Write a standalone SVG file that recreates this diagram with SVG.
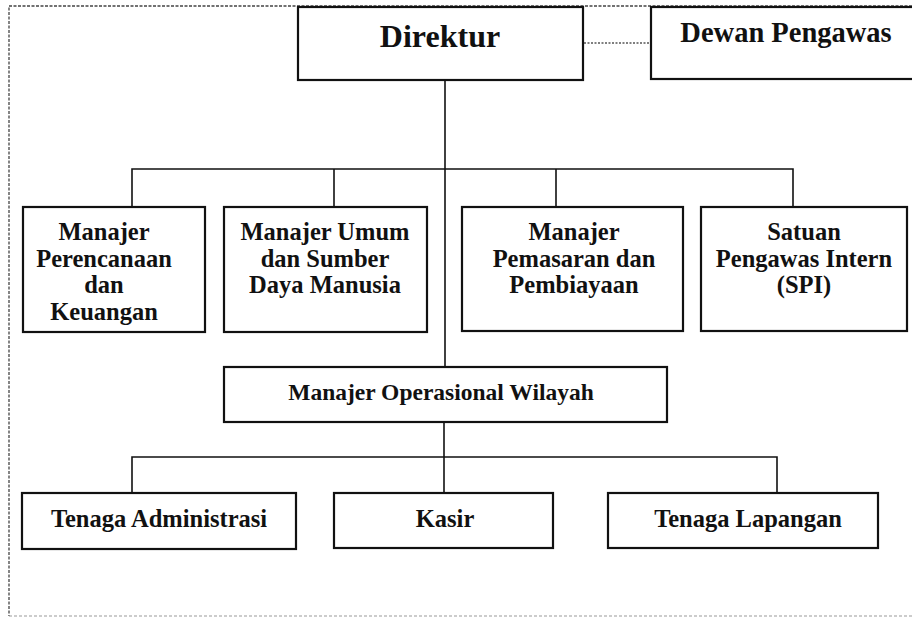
<svg xmlns="http://www.w3.org/2000/svg" width="912" height="619" viewBox="0 0 912 619">
  <style>
    .box { fill: #ffffff; stroke: #111111; stroke-width: 2.2; }
    .lbl { font-family: "Liberation Serif", "Times New Roman", serif; font-weight: bold; fill: #111111; text-anchor: middle; }
    .big { font-size: 32px; }
    .dewan { font-size: 28.5px; }
    .mid { font-size: 24.5px; }
    .op { font-size: 23.5px; }
    .low { font-size: 24.5px; }
    .conn { fill: none; stroke: #111111; stroke-width: 1.6; }
    .dot { fill: none; stroke: #555555; stroke-width: 1.4; stroke-dasharray: 2 1.5; }
    .frame { fill: none; stroke: #444444; stroke-width: 1.3; stroke-dasharray: 3 1.5; }
    .frameb { fill: none; stroke: #999999; stroke-width: 1; stroke-dasharray: 3 2; }
  </style>

  <rect width="912" height="619" fill="#ffffff"/>

  <g id="frame">
    <path class="frame" d="M912,6 H9 V616"/>
    <path class="frameb" d="M9,616 H912"/>
  </g>

  <g id="connectors">
    <path class="dot" d="M584,43 H651"/>
    <path class="conn" d="M445,80 V367"/>
    <path class="conn" d="M132,207 V169 H793 V207"/>
    <path class="conn" d="M334,169 V207"/>
    <path class="conn" d="M556,169 V207"/>
    <path class="conn" d="M444,422 V493"/>
    <path class="conn" d="M132,493 V457 H777 V493"/>
  </g>

  <g id="direktur">
    <rect class="box" x="298" y="7" width="285" height="73" stroke-width="2.6"/>
    <text class="lbl big" x="440" y="47">Direktur</text>
  </g>

  <g id="dewan-pengawas">
    <rect class="box" x="651" y="7" width="265" height="72"/>
    <text class="lbl dewan" x="786" y="42">Dewan Pengawas</text>
  </g>

  <g id="manajer-perencanaan">
    <rect class="box" x="23" y="207" width="182" height="125"/>
    <text class="lbl mid" x="104" y="240">Manajer</text>
    <text class="lbl mid" x="104" y="266.5">Perencanaan</text>
    <text class="lbl mid" x="104" y="293">dan</text>
    <text class="lbl mid" x="104" y="319.5">Keuangan</text>
  </g>

  <g id="manajer-umum">
    <rect class="box" x="224" y="207" width="203" height="125"/>
    <text class="lbl mid" x="325" y="240">Manajer Umum</text>
    <text class="lbl mid" x="325" y="266.5">dan Sumber</text>
    <text class="lbl mid" x="325" y="293">Daya Manusia</text>
  </g>

  <g id="manajer-pemasaran">
    <rect class="box" x="462" y="207" width="221" height="124"/>
    <text class="lbl mid" x="574" y="240">Manajer</text>
    <text class="lbl mid" x="574" y="266.5">Pemasaran dan</text>
    <text class="lbl mid" x="574" y="293">Pembiayaan</text>
  </g>

  <g id="spi">
    <rect class="box" x="701" y="207" width="206" height="124"/>
    <text class="lbl mid" x="804" y="240">Satuan</text>
    <text class="lbl mid" x="804" y="266.5">Pengawas Intern</text>
    <text class="lbl mid" x="804" y="293">(SPI)</text>
  </g>

  <g id="manajer-operasional">
    <rect class="box" x="224" y="367" width="443" height="55"/>
    <text class="lbl op" x="441" y="400">Manajer Operasional Wilayah</text>
  </g>

  <g id="tenaga-administrasi">
    <rect class="box" x="22" y="493" width="274" height="56"/>
    <text class="lbl low" x="159" y="527">Tenaga Administrasi</text>
  </g>

  <g id="kasir">
    <rect class="box" x="334" y="493" width="219" height="55"/>
    <text class="lbl low" x="445" y="527">Kasir</text>
  </g>

  <g id="tenaga-lapangan">
    <rect class="box" x="608" y="493" width="270" height="55"/>
    <text class="lbl low" x="748" y="527">Tenaga Lapangan</text>
  </g>
</svg>
